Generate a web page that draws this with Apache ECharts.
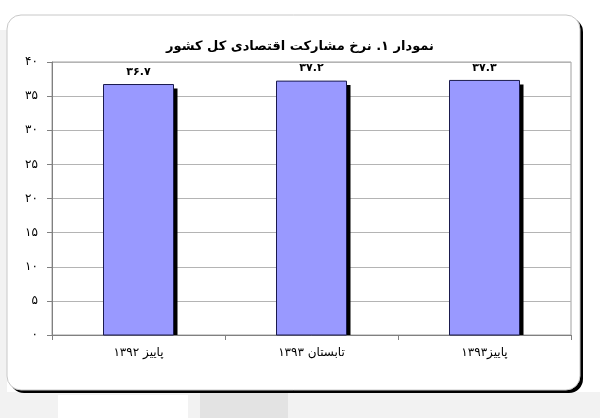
<!DOCTYPE html>
<html>
<head>
<meta charset="utf-8">
<script src="https://cdn.jsdelivr.net/npm/echarts@6/dist/echarts.min.js"></script>
<style>html,body{margin:0;padding:0;background:#fff}#c{width:600px;height:418px}</style>
</head>
<body>
<div id="c"></div>
<script>
var titleText = 'نمودار ۱. نرخ مشارکت اقتصادی کل کشور';
var categories = ['پاییز ۱۳۹۲', 'تابستان ۱۳۹۳', 'پاییز۱۳۹۳'];
var values = [36.7, 37.2, 37.3];
var valueLabels = ['۳۶.۷', '۳۷.۲', '۳۷.۳'];
var yTickLabels = ['۰', '۵', '۱۰', '۱۵', '۲۰', '۲۵', '۳۰', '۳۵', '۴۰'];

var font = '"DejaVu Sans", sans-serif';
var BAR_W = 70;
var chart = echarts.init(document.getElementById('c'));
chart.setOption({
  animation: false,
  backgroundColor: '#ffffff',
  graphic: [
    { type: 'rect', z: -10, silent: true, shape: { x: 0, y: 392, width: 600, height: 26 }, style: { fill: '#f2f2f2' } },
    { type: 'rect', z: -10, silent: true, shape: { x: 0, y: 30, width: 7, height: 388 }, style: { fill: '#f2f2f2' } },
    { type: 'rect', z: -9, silent: true, shape: { x: 58, y: 395, width: 130, height: 23 }, style: { fill: '#ffffff' } },
    { type: 'rect', z: -9, silent: true, shape: { x: 200, y: 392, width: 88, height: 26 }, style: { fill: '#e3e3e3' } },
    { type: 'rect', z: -8, silent: true, shape: { x: 10, y: 18, width: 573, height: 375, r: 14 }, style: { fill: '#000000' } },
    { type: 'rect', z: -7, silent: true, shape: { x: 7, y: 15, width: 573, height: 375, r: 14 }, style: { fill: '#ffffff', stroke: '#c8c8c8', lineWidth: 1 } }
  ],
  title: {
    text: titleText,
    left: 'center',
    top: 35,
    textStyle: { fontFamily: font, fontSize: 13, fontWeight: 'bold', color: '#000' }
  },
  grid: { left: 52, right: 29, top: 62, bottom: 83, show: true, borderColor: '#a0a0a0', borderWidth: 1, backgroundColor: 'transparent' },
  xAxis: {
    type: 'category',
    data: categories,
    boundaryGap: true,
    axisLine: { lineStyle: { color: '#808080', width: 1 } },
    axisTick: { show: true, length: 5, lineStyle: { color: '#808080' } },
    axisLabel: { fontFamily: font, fontSize: 12, color: '#000', margin: 12 }
  },
  yAxis: {
    type: 'value',
    min: 0, max: 40, interval: 5,
    axisLine: { show: true, lineStyle: { color: '#808080', width: 1 } },
    axisTick: { show: true, length: 5, lineStyle: { color: '#808080' } },
    splitLine: { lineStyle: { color: '#b4b4b4', width: 1 } },
    axisLabel: {
      fontFamily: font, fontSize: 12, color: '#000', margin: 14,
      formatter: function (v) { return yTickLabels[Math.round(v / 5)]; }
    }
  },
  series: [{
    type: 'custom',
    data: values.map(function (v, i) { return [i, v]; }),
    encode: { x: 0, y: 1 },
    renderItem: function (params, api) {
      var top = api.coord([api.value(0), api.value(1)]);
      var base = api.coord([api.value(0), 0]);
      var x = top[0] - BAR_W / 2;
      var h = base[1] - top[1];
      var i = params.dataIndex;
      return {
        type: 'group',
        children: [
          { type: 'rect', shape: { x: x + 4, y: top[1] + 4, width: BAR_W, height: h - 4 }, style: { fill: '#000000' } },
          { type: 'rect', shape: { x: x, y: top[1], width: BAR_W, height: h }, style: { fill: '#9999ff', stroke: '#1a1a4d', lineWidth: 1 } },
          { type: 'text', style: { text: valueLabels[i], x: top[0], y: top[1] - 7, align: 'center', verticalAlign: 'bottom', font: 'bold 11px ' + font, fill: '#000' } }
        ]
      };
    }
  }]
});
</script>
</body>
</html>
